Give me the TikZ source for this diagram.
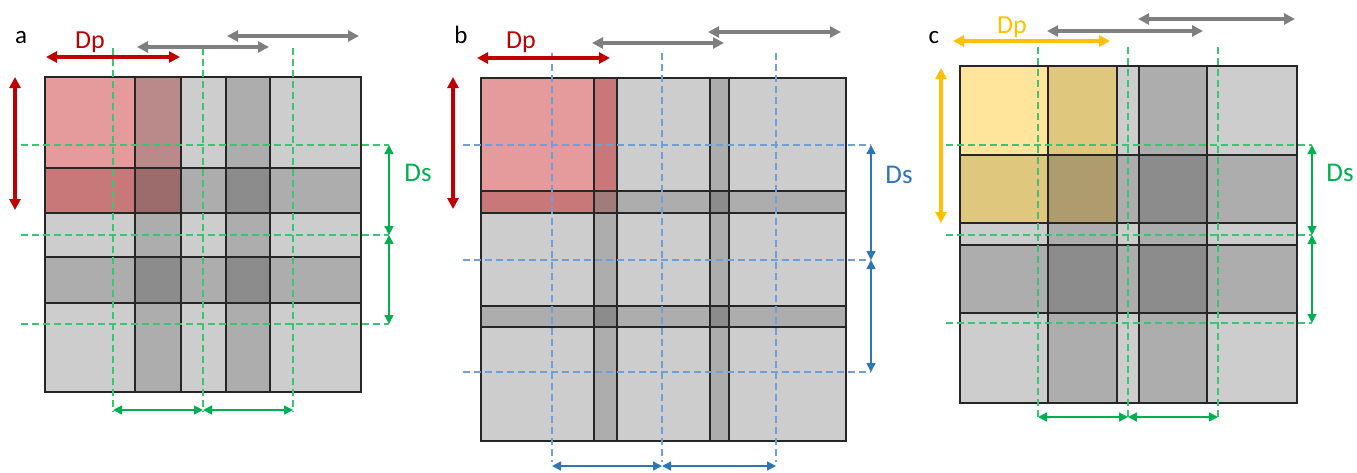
\documentclass[tikz,border=0pt]{standalone}
\usepackage{fontspec}
\setmainfont{Carlito}
\usetikzlibrary{arrows.meta}
\definecolor{gA}{HTML}{CDCDCD}
\definecolor{gB}{HTML}{ADADAD}
\definecolor{gD}{HTML}{8C8C8C}
\definecolor{redA}{HTML}{C00000}
\definecolor{grayA}{HTML}{7F7F7F}
\definecolor{greenA}{HTML}{00B050}
\definecolor{greenL}{HTML}{3CC475}
\definecolor{blueA}{HTML}{2E75B6}
\definecolor{blueL}{HTML}{6E9FD6}
\definecolor{yellowA}{HTML}{FFC000}
\tikzset{
  tileline/.style={draw=black!85, line width=1.6pt},
  bigarrow/.style={line width=3.2pt, {Triangle[length=11pt,width=11pt]}-{Triangle[length=11pt,width=11pt]}},
  thinarrow/.style={line width=1.4pt, {Triangle[length=9pt,width=9pt]}-{Triangle[length=9pt,width=9pt]}},
  guide/.style={line width=1.4pt, dash pattern=on 7pt off 4pt},
  dplabel/.style={anchor=base, font=\fontsize{26}{30}\selectfont, inner sep=0pt},
  dslabel/.style={anchor=base, font=\fontsize{27}{31}\selectfont, inner sep=0pt},
  panellabel/.style={anchor=base, font=\fontsize{25}{29}\selectfont, inner sep=0pt},
}
\newcommand\drawpanel{%
  \fill[gA] (\Xa,\Ya) rectangle (\Xf,\Yf);
  \fill[gB] (\Xb,\Ya) rectangle (\Xc,\Yf);
  \fill[gB] (\Xd,\Ya) rectangle (\Xe,\Yf);
  \fill[gB] (\Xa,\Yb) rectangle (\Xf,\Yc);
  \fill[gB] (\Xa,\Yd) rectangle (\Xf,\Ye);
  \fill[gD] (\Xb,\Yb) rectangle (\Xc,\Yc);
  \fill[gD] (\Xd,\Yb) rectangle (\Xe,\Yc);
  \fill[gD] (\Xb,\Yd) rectangle (\Xc,\Ye);
  \fill[gD] (\Xd,\Yd) rectangle (\Xe,\Ye);
  \fill[hiA] (\Xa,\Ya) rectangle (\Xb,\Yb);
  \fill[hiC] (\Xb,\Ya) rectangle (\Xc,\Yb);
  \fill[hiR] (\Xa,\Yb) rectangle (\Xb,\Yc);
  \fill[hiD] (\Xb,\Yb) rectangle (\Xc,\Yc);
  \foreach \l/\r in {\Xa/\Xc,\Xb/\Xe,\Xd/\Xf}
    \foreach \t/\b in {\Ya/\Yc,\Yb/\Ye,\Yd/\Yf}
      \draw[tileline] (\l,\t) rectangle (\r,\b);
}
\begin{document}
\begin{tikzpicture}[x=1pt,y=-1pt]
\useasboundingbox (0,0) rectangle (1357,472);

% ---------------- panel a ----------------
\def\Xa{45}\def\Xb{135}\def\Xc{181}\def\Xd{226}\def\Xe{270}\def\Xf{361}
\def\Ya{77}\def\Yb{168}\def\Yc{213}\def\Yd{257}\def\Ye{303}\def\Yf{392}
\definecolor{hiA}{HTML}{E59B9B}
\definecolor{hiC}{HTML}{BA8A8A}
\definecolor{hiR}{HTML}{C87878}
\definecolor{hiD}{HTML}{9C6B6B}
\drawpanel
\foreach \x in {113,203,293} \draw[guide, greenL] (\x,48) -- (\x,412);
\foreach \y in {145,235,324} \draw[guide, greenL] (21,\y) -- (389,\y);
\coordinate (aB1) at (113,410); \coordinate (aB2) at (203,410); \coordinate (aB3) at (293,410);
\draw[thinarrow, greenA] (aB1) -- (aB2);
\draw[thinarrow, greenA] (aB2) -- (aB3);
\coordinate (aR1) at (389,145); \coordinate (aR2) at (389,235); \coordinate (aR3) at (389,324);
\draw[thinarrow, greenA] (aR1) -- (aR2);
\draw[thinarrow, greenA] (aR2) -- (aR3);
\node[dslabel, text=greenA] (aDs) at (418,181) {Ds};
\coordinate (aH1) at (46,57); \coordinate (aH2) at (180,57);
\draw[bigarrow, redA] (aH1) -- (aH2);
\coordinate (aV1) at (15,77); \coordinate (aV2) at (15,210);
\draw[bigarrow, redA] (aV1) -- (aV2);
\coordinate (aG1) at (137,47); \coordinate (aG2) at (269,47);
\draw[bigarrow, grayA] (aG1) -- (aG2);
\coordinate (aG3) at (227,36); \coordinate (aG4) at (359,36);
\draw[bigarrow, grayA] (aG3) -- (aG4);
\node[dplabel, text=redA] (aDp) at (90,48) {Dp};
\node[panellabel] (aL) at (21,43) {a};

% ---------------- panel b ----------------
\def\Xa{481}\def\Xb{594}\def\Xc{617}\def\Xd{710}\def\Xe{729}\def\Xf{846}
\def\Ya{78}\def\Yb{191}\def\Yc{213}\def\Yd{306}\def\Ye{327}\def\Yf{441}
\definecolor{hiA}{HTML}{E59B9B}
\definecolor{hiC}{HTML}{C87878}
\definecolor{hiR}{HTML}{C87878}
\definecolor{hiD}{HTML}{A07C7C}
\drawpanel
\foreach \x in {552,662,776} \draw[guide, blueL] (\x,53) -- (\x,462);
\foreach \y in {145,260,372} \draw[guide, blueL] (463,\y) -- (871,\y);
\coordinate (bB1) at (552,466); \coordinate (bB2) at (662,466); \coordinate (bB3) at (776,466);
\draw[thinarrow, blueA] (bB1) -- (bB2);
\draw[thinarrow, blueA] (bB2) -- (bB3);
\coordinate (bR1) at (871,145); \coordinate (bR2) at (871,260); \coordinate (bR3) at (871,372);
\draw[thinarrow, blueA] (bR1) -- (bR2);
\draw[thinarrow, blueA] (bR2) -- (bR3);
\node[dslabel, text=blueA] (bDs) at (899,183) {Ds};
\coordinate (bH1) at (477,58); \coordinate (bH2) at (610,58);
\draw[bigarrow, redA] (bH1) -- (bH2);
\coordinate (bV1) at (453,77); \coordinate (bV2) at (453,209);
\draw[bigarrow, redA] (bV1) -- (bV2);
\coordinate (bG1) at (592,43); \coordinate (bG2) at (724,43);
\draw[bigarrow, grayA] (bG1) -- (bG2);
\coordinate (bG3) at (708,32); \coordinate (bG4) at (841,32);
\draw[bigarrow, grayA] (bG3) -- (bG4);
\node[dplabel, text=redA] (bDp) at (521,48) {Dp};
\node[panellabel] (bL) at (461,43) {b};

% ---------------- panel c ----------------
\def\Xa{960}\def\Xb{1048}\def\Xc{1117}\def\Xd{1139}\def\Xe{1207}\def\Xf{1297}
\def\Ya{66}\def\Yb{155}\def\Yc{223}\def\Yd{245}\def\Ye{313}\def\Yf{403}
\definecolor{hiA}{HTML}{FEE59B}
\definecolor{hiC}{HTML}{E0C77E}
\definecolor{hiR}{HTML}{E0C77E}
\definecolor{hiD}{HTML}{AE9C6E}
\drawpanel
\foreach \x in {1038,1128,1218} \draw[guide, greenL] (\x,47) -- (\x,419);
\foreach \y in {145,235,323} \draw[guide, greenL] (946,\y) -- (1312,\y);
\coordinate (cB1) at (1038,417); \coordinate (cB2) at (1128,417); \coordinate (cB3) at (1218,417);
\draw[thinarrow, greenA] (cB1) -- (cB2);
\draw[thinarrow, greenA] (cB2) -- (cB3);
\coordinate (cR1) at (1312,145); \coordinate (cR2) at (1312,235); \coordinate (cR3) at (1312,323);
\draw[thinarrow, greenA] (cR1) -- (cR2);
\draw[thinarrow, greenA] (cR2) -- (cR3);
\node[dslabel, text=greenA] (cDs) at (1340,181) {Ds};
\coordinate (cH1) at (953,41); \coordinate (cH2) at (1110,41);
\draw[bigarrow, yellowA] (cH1) -- (cH2);
\coordinate (cV1) at (941,68); \coordinate (cV2) at (941,223);
\draw[bigarrow, yellowA] (cV1) -- (cV2);
\coordinate (cG1) at (1047,31); \coordinate (cG2) at (1203,31);
\draw[bigarrow, grayA] (cG1) -- (cG2);
\coordinate (cG3) at (1138,19); \coordinate (cG4) at (1295,19);
\draw[bigarrow, grayA] (cG3) -- (cG4);
\node[dplabel, text=yellowA] (cDp) at (1012,33) {Dp};
\node[panellabel] (cL) at (934,43) {c};
\end{tikzpicture}
\end{document}
